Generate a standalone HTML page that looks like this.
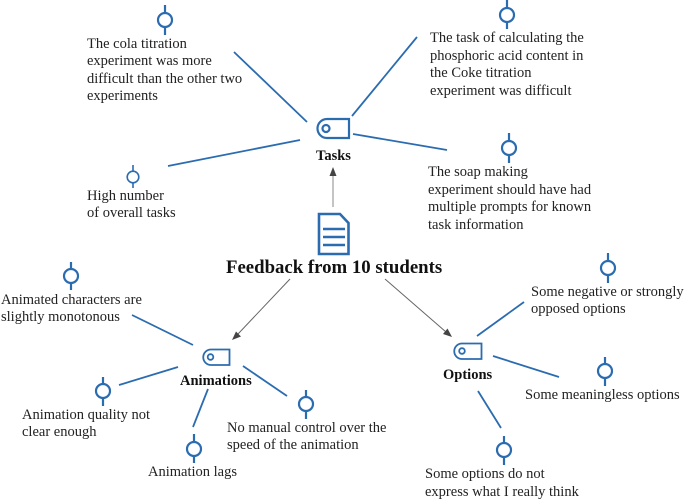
<!DOCTYPE html>
<html><head><meta charset="utf-8"><style>
html,body{margin:0;padding:0;background:#fff;width:685px;height:499px;overflow:hidden}
svg{display:block}
text{font-family:"Liberation Serif",serif;font-size:14.5px;fill:#222}
.b{font-weight:bold;fill:#111}
.l{stroke:#2b6cb0;stroke-width:1.8;fill:none}
.i{stroke:#2b6cb0;stroke-width:2.2;fill:none}
.a{stroke:#666;stroke-width:1;fill:none}
.h{fill:#444}
</style></head><body>
<svg width="685" height="499" viewBox="0 0 685 499" xmlns="http://www.w3.org/2000/svg">
<path class="l" d="M234 52L307 122M352 116L417 37M353 134L447 150M300 140L168 166"/>
<path class="l" d="M132 315L193 345M178 367L119 385M208 389L193 427M243 366L287 396"/>
<path class="l" d="M477 336L524 302M493 356L559 377M478 391L501 428"/>
<path class="a" style="stroke:#888" d="M333 207V176"/><path class="h" d="M333 167L329.500 176H336.500Z"/>
<path class="a" d="M290 279L238 334"/><path class="h" d="M232 340L236 331.500L241 336.500Z"/>
<path class="a" d="M385 279L446 332"/><path class="h" d="M452 337L443 334L447.500 328.500Z"/>
<path class="i" d="M165 5V13M165 27V35"/><circle class="i" cx="165" cy="20" r="7"/>
<path class="i" d="M507 0V8M507 22V29"/><circle class="i" cx="507" cy="15" r="7"/>
<path class="i" d="M509 133V141M509 155V163"/><circle class="i" cx="509" cy="148" r="7"/>
<path class="i" style="stroke-width:1.6" d="M133 165V171M133 183V188"/><circle class="i" style="stroke-width:1.6" cx="133" cy="177" r="5.800"/>
<path class="i" d="M71 262V269M71 283V290"/><circle class="i" cx="71" cy="276" r="7"/>
<path class="i" d="M103 377V384M103 398V406"/><circle class="i" cx="103" cy="391" r="7"/>
<path class="i" d="M194 434V442M194 456V463"/><circle class="i" cx="194" cy="449" r="7"/>
<path class="i" d="M306 390V397M306 411V419"/><circle class="i" cx="306" cy="404" r="7"/>
<path class="i" d="M608 253V261M608 275V283"/><circle class="i" cx="608" cy="268" r="7"/>
<path class="i" d="M605 357V364M605 378V386"/><circle class="i" cx="605" cy="371" r="7"/>
<path class="i" d="M504 436V443M504 457V465"/><circle class="i" cx="504" cy="450" r="7"/>
<path class="i" d="M327 119H349V138H327A9.500 9.500 0 0 1 327 119Z"/><circle class="i" cx="326" cy="128.500" r="3.500"/>
<path class="i" style="stroke-width:1.8" d="M211 349.500H229.500V365H211A7.750 7.750 0 0 1 211 349.500Z"/><circle class="i" style="stroke-width:1.8" cx="210.500" cy="357" r="2.800"/>
<path class="i" style="stroke-width:1.8" d="M462 343.500H481.500V359H462A7.750 7.750 0 0 1 462 343.500Z"/><circle class="i" style="stroke-width:1.8" cx="462" cy="351" r="2.800"/>
<path class="i" style="stroke-width:2.600" d="M319 214H340L348.500 223V254H319Z"/>
<path class="i" style="stroke-width:2.400" d="M323 229H345M323 237H345M323 245H345"/>
<text class="b" x="226" y="273" style="font-size:18.800px">Feedback from 10 students</text>
<text class="b" x="316" y="160">Tasks</text>
<text class="b" x="180" y="385">Animations</text>
<text class="b" x="443" y="379">Options</text>
<text x="87" y="48">The cola titration</text>
<text x="87" y="65">experiment was more</text>
<text x="87" y="83">difficult than the other two</text>
<text x="87" y="100">experiments</text>
<text x="87" y="200">High number</text>
<text x="87" y="217">of overall tasks</text>
<text x="430" y="42">The task of calculating the</text>
<text x="430" y="60">phosphoric acid content in</text>
<text x="430" y="77">the Coke titration</text>
<text x="430" y="95">experiment was difficult</text>
<text x="428" y="176">The soap making</text>
<text x="428" y="194">experiment should have had</text>
<text x="428" y="211">multiple prompts for known</text>
<text x="428" y="229">task information</text>
<text x="1" y="304">Animated characters are</text>
<text x="1" y="321">slightly monotonous</text>
<text x="22" y="419">Animation quality not</text>
<text x="22" y="436">clear enough</text>
<text x="148" y="476">Animation lags</text>
<text x="227" y="432">No manual control over the</text>
<text x="227" y="449">speed of the animation</text>
<text x="531" y="296">Some negative or strongly</text>
<text x="531" y="313">opposed options</text>
<text x="525" y="399">Some meaningless options</text>
<text x="425" y="478">Some options do not</text>
<text x="425" y="496">express what I really think</text>
</svg>
</body></html>
